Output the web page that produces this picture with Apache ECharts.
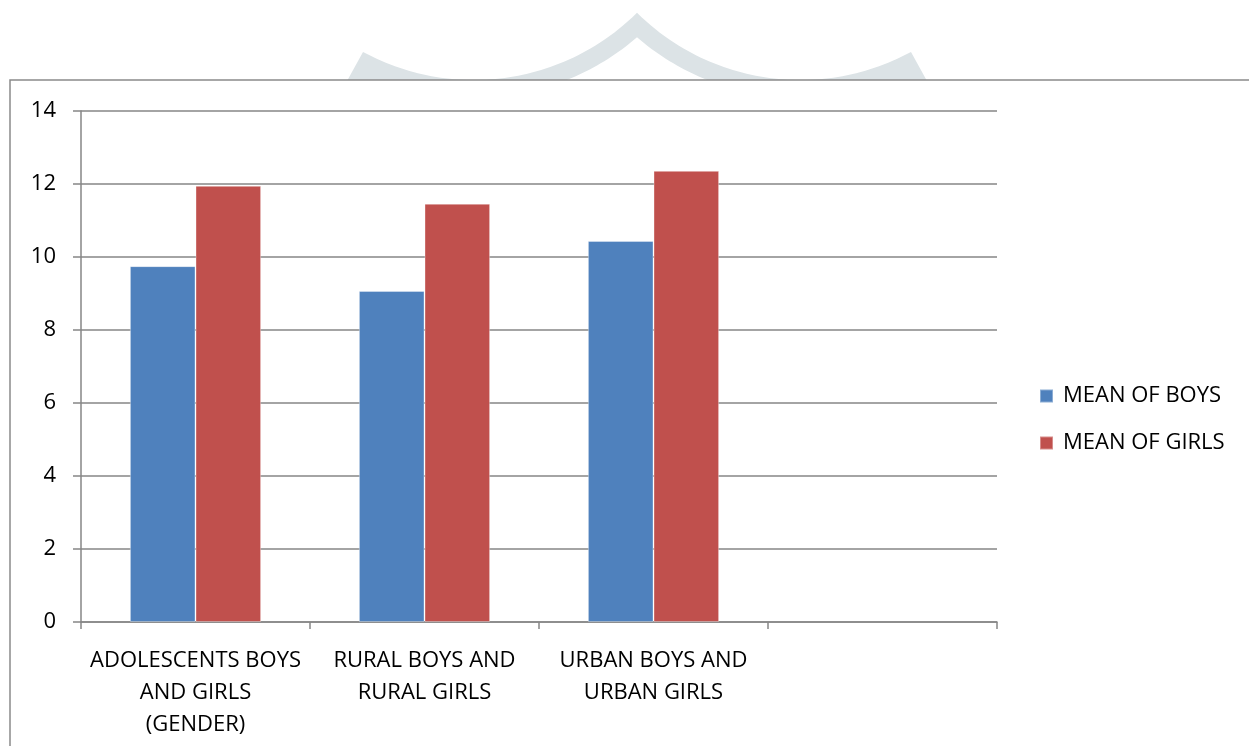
<!DOCTYPE html>
<html>
<head>
<meta charset="utf-8">
<script src="https://cdn.jsdelivr.net/npm/echarts@6/dist/echarts.min.js"></script>
<style>
html,body{margin:0;padding:0;background:#fff;}
#chart{width:1249px;height:746px;}
</style>
</head>
<body>
<div id="chart"></div>
<script>
const categories = ['ADOLESCENTS BOYS\nAND GIRLS\n(GENDER)', 'RURAL BOYS AND\nRURAL GIRLS', 'URBAN BOYS AND\nURBAN GIRLS', ''];
const seriesNames = ['MEAN OF BOYS', 'MEAN OF GIRLS'];
const boys = [9.75, 9.07, 10.44, null];
const girls = [11.95, 11.46, 12.36, null];
const yTicks = [0, 2, 4, 6, 8, 10, 12, 14];

const font = '"Open Sans", "Noto Sans", sans-serif';

// decorative background watermark (crown made of two circular bands)
function arcPts(cx, cy, r, x0, x1, n) {
  const pts = [];
  for (let i = 0; i <= n; i++) {
    const x = x0 + (x1 - x0) * i / n;
    pts.push([x, cy + Math.sqrt(Math.max(0, r * r - (x - cx) * (x - cx)))]);
  }
  return pts;
}
const cL = 473.7, cR = 800.3, cY = -152, rOut = 232, rIn = 250;
const crown = [[347, 81]]
  .concat(arcPts(cL, cY, rOut, 363, 637, 60))
  .concat(arcPts(cR, cY, rOut, 637, 911, 60))
  .concat([[927, 81]])
  .concat(arcPts(cR, cY, rIn, 709.7, 637, 20))
  .concat(arcPts(cL, cY, rIn, 637, 564.3, 20));

const chart = echarts.init(document.getElementById('chart'), null, {renderer: 'canvas'});
chart.setOption({
  animation: false,
  backgroundColor: '#fff',
  graphic: [
    {
      type: 'polygon', z: -20,
      shape: {points: crown},
      style: {fill: '#dce3e6'}
    },
    {
      type: 'rect', z: -10,
      shape: {x: 10, y: 80, width: 1300, height: 720},
      style: {fill: '#fff', stroke: '#8a8a8a', lineWidth: 1.5}
    }
  ],
  grid: {left: 81, right: 252, top: 111, bottom: 124, containLabel: false},
  legend: {
    orient: 'vertical',
    left: 1034,
    top: 380,
    itemWidth: 13,
    itemHeight: 13,
    itemGap: 25,
    icon: 'rect',
    data: seriesNames,
    textStyle: {fontFamily: font, fontSize: 22, color: '#000', padding: [0, 0, 0, 5]}
  },
  xAxis: {
    type: 'category',
    data: categories,
    axisLine: {lineStyle: {color: '#868686', width: 1.5}},
    axisTick: {show: true, length: 7, lineStyle: {color: '#868686', width: 1.5}},
    axisLabel: {fontFamily: font, fontSize: 22, color: '#000', lineHeight: 32, margin: 23, interval: 0}
  },
  yAxis: {
    type: 'value',
    min: yTicks[0],
    max: yTicks[yTicks.length - 1],
    interval: 2,
    axisLine: {show: true, lineStyle: {color: '#868686', width: 1.5}},
    axisTick: {show: true, length: 8, lineStyle: {color: '#868686', width: 1.5}},
    splitLine: {show: true, lineStyle: {color: '#868686', width: 1.5}},
    axisLabel: {fontFamily: font, fontSize: 22, color: '#000', margin: 25}
  },
  series: [
    {
      name: seriesNames[0], type: 'bar', data: boys,
      barGap: '0%', barCategoryGap: '42.7%',
      itemStyle: {color: '#4F81BD', borderColor: 'rgba(255,255,255,0.35)', borderWidth: 1}
    },
    {
      name: seriesNames[1], type: 'bar', data: girls,
      barGap: '0%', barCategoryGap: '42.7%',
      itemStyle: {color: '#C0504D', borderColor: 'rgba(255,255,255,0.35)', borderWidth: 1}
    }
  ]
});
</script>
</body>
</html>
